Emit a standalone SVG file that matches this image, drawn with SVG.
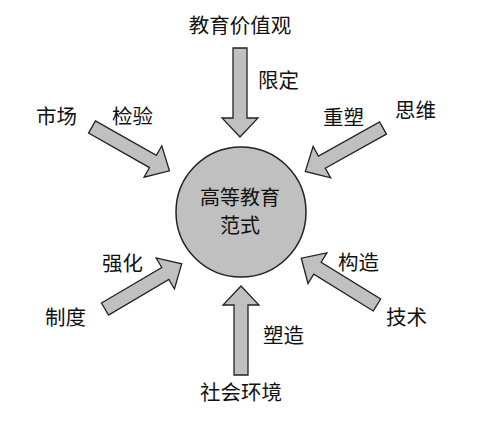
<svg xmlns="http://www.w3.org/2000/svg" width="484" height="422" viewBox="0 0 484 422">
<style>
text{font-family:"Noto Sans CJK SC","Noto Sans",sans-serif;font-size:20.5px;fill:#111;}
.c{text-anchor:middle;}
.m{font-size:20px;}
.arr{fill:#c0c0c0;stroke:#222;stroke-width:1.3;stroke-linejoin:miter;}
</style>
<defs>
<path id="a" d="M0,-7 L70,-7 L70,-18 L89,0 L70,18 L70,7 L0,7 Z"/>
</defs>
<rect width="484" height="422" fill="#fff"/>
<g id="center">
<circle cx="241" cy="212" r="65" fill="#c0c0c0" stroke="#222" stroke-width="1.5"/>
<text class="c m" x="240" y="205">高等教育</text>
<text class="c m" x="240" y="233">范式</text>
</g>
<g id="n-values"><text class="c" x="240" y="33">教育价值观</text></g>
<g id="n-market"><text x="36" y="124">市场</text></g>
<g id="n-thinking"><text x="395" y="118">思维</text></g>
<g id="n-system"><text x="45" y="325">制度</text></g>
<g id="n-tech"><text x="386" y="325">技术</text></g>
<g id="n-society"><text class="c" x="241" y="400">社会环境</text></g>
<g id="connectors">
<use href="#a" class="arr" transform="translate(240,48) rotate(90)"/>
<use href="#a" class="arr" transform="translate(241,375) rotate(-90)"/>
<use href="#a" class="arr" transform="translate(92,127) rotate(29.5)"/>
<use href="#a" class="arr" transform="translate(383,128) rotate(150.8)"/>
<use href="#a" class="arr" transform="translate(105,309) rotate(-30.5)"/>
<use href="#a" class="arr" transform="translate(377,305) rotate(-148.3)"/>
<text x="258" y="88">限定</text>
<text x="112" y="124">检验</text>
<text x="323" y="125">重塑</text>
<text x="102" y="271">强化</text>
<text x="338" y="270">构造</text>
<text x="263" y="343">塑造</text>
</g>
</svg>
